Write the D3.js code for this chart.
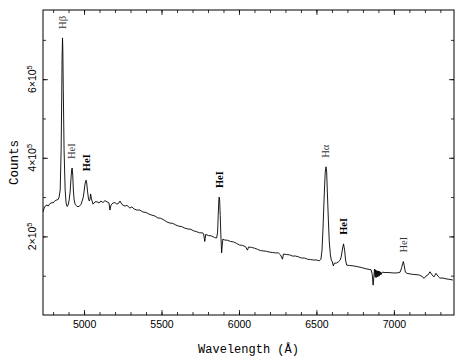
<!DOCTYPE html>
<html>
<head>
<meta charset="utf-8">
<script src="https://cdn.jsdelivr.net/npm/d3@7"></script>
<style>
  body { margin: 0; background: #fff; }
  .chart { width: 464px; height: 359px; }
</style>
</head>
<body>
<div class="chart"></div>
<script>
// spectrum: wavelength (Angstrom) and counts
const wavelengths = [
  4736, 4742, 4749, 4762, 4768, 4781, 4794, 4800, 4813, 4826, 4833, 4839, 4846, 4852, 4856, 4858,
  4861, 4863, 4866, 4871, 4878, 4884, 4891, 4897, 4904, 4910, 4916, 4920, 4923, 4927, 4931, 4936,
  4942, 4955, 4968, 4981, 4994, 5000, 5006, 5013, 5017, 5023, 5029, 5034, 5039, 5042, 5048, 5058,
  5071, 5084, 5097, 5109, 5122, 5135, 5148, 5161, 5167, 5174, 5187, 5199, 5212, 5225, 5232, 5245,
  5264, 5277, 5296, 5309, 5322, 5341, 5360, 5380, 5399, 5418, 5438, 5457, 5476, 5495, 5515, 5534,
  5553, 5573, 5592, 5611, 5631, 5650, 5669, 5689, 5708, 5727, 5746, 5766, 5772, 5779, 5785, 5804,
  5824, 5843, 5856, 5862, 5866, 5870, 5872, 5875, 5879, 5883, 5888, 5892, 5896, 5907, 5927, 5946,
  5965, 5985, 6004, 6023, 6042, 6055, 6062, 6081, 6100, 6120, 6139, 6158, 6178, 6197, 6216, 6236,
  6255, 6268, 6281, 6287, 6306, 6326, 6345, 6364, 6384, 6403, 6422, 6442, 6461, 6480, 6500, 6519,
  6529, 6536, 6542, 6548, 6553, 6557, 6562, 6566, 6570, 6577, 6583, 6590, 6596, 6603, 6609, 6616,
  6628, 6641, 6654, 6661, 6668, 6675, 6682, 6688, 6695, 6712, 6738, 6763, 6789, 6815, 6840, 6853,
  6860, 6866, 6871, 6875, 6879, 6882, 6885, 6889, 6892, 6895, 6898, 6901, 6905, 6908, 6911, 6914,
  6918, 6924, 6943, 6969, 6995, 7021, 7040, 7050, 7056, 7061, 7067, 7074, 7085, 7111, 7136, 7162,
  7182, 7195, 7207, 7220, 7233, 7246, 7259, 7272, 7284, 7297, 7317, 7336, 7355, 7381
]
const counts = [
  263000, 272000, 277000, 280000, 277000, 284000, 286000, 285000, 291000, 293000, 294000, 300000, 318000, 420000, 560000, 650000,
  705000, 674000, 573000, 420000, 318000, 285000, 276000, 280000, 293000, 313000, 349000, 369000, 374000, 356000, 318000, 293000,
  282000, 276000, 276000, 282000, 298000, 313000, 333000, 343000, 336000, 313000, 295000, 290000, 295000, 308000, 295000, 282000,
  288000, 288000, 285000, 290000, 286000, 291000, 288000, 285000, 267000, 280000, 285000, 286000, 282000, 285000, 290000, 281000,
  277000, 279000, 272000, 275000, 270000, 267000, 267000, 262000, 261000, 257000, 254000, 252000, 247000, 246000, 242000, 237000,
  234000, 233000, 229000, 226000, 225000, 221000, 219000, 218000, 214000, 212000, 209000, 209000, 206000, 187000, 205000, 202000,
  201000, 197000, 196000, 211000, 254000, 293000, 300000, 295000, 254000, 204000, 158000, 178000, 193000, 191000, 190000, 187000,
  186000, 182000, 178000, 177000, 174000, 165000, 173000, 172000, 170000, 167000, 164000, 163000, 162000, 160000, 159000, 158000,
  158000, 153000, 142000, 155000, 154000, 153000, 150000, 150000, 148000, 145000, 145000, 142000, 141000, 140000, 140000, 138000,
  142000, 165000, 216000, 280000, 331000, 364000, 377000, 364000, 318000, 242000, 186000, 153000, 140000, 135000, 125000, 132000,
  132000, 135000, 140000, 150000, 168000, 181000, 165000, 140000, 127000, 126000, 125000, 123000, 121000, 118000, 116000, 115000,
  104000, 76000, 99000, 117000, 97000, 115000, 95000, 113000, 97000, 112000, 98000, 112000, 99000, 111000, 102000, 109000,
  103000, 109000, 108000, 108000, 107000, 107000, 109000, 120000, 130000, 136000, 125000, 109000, 106000, 104000, 103000, 102000,
  98000, 93000, 99000, 102000, 110000, 102000, 97000, 106000, 99000, 94000, 94000, 92000, 91000, 89000
]

// emission line labels
const lineNames = ["H\u03b2", "HeI", "HeI", "HeI", "H\u03b1", "HeI", "HeI"]
const lineWaves = [4861, 4922, 5016, 5876, 6563, 6678, 7065]
const lineBold = [false, false, true, true, false, true, false]

// axis ticks
const xMajor = [5000, 5500, 6000, 6500, 7000]
const xMinor = d3.range(4800, 7400, 100)
const yMajor = [200000, 400000, 600000]
const yMajorLabels = ["2", "4", "6"]
const yMinor = [100000, 200000, 300000, 400000, 500000, 600000, 700000]

function SpectrumChart(){
    let config = {
        marginLeft: 43,
        marginRight: 10,
        marginTop: 10,
        marginBottom: 44
    }
    const width = 464
    const height = 359
    const innerW = width - config.marginLeft - config.marginRight
    const innerH = height - config.marginTop - config.marginBottom

    let svg = d3.select(".chart")
        .append("svg")
        .attr("width", width)
        .attr("height", height)

    let g = svg.append("g")
        .attr("transform", `translate(${config.marginLeft},${config.marginTop})`)

    var x = d3.scaleLinear()
        .domain([4735, 7388])
        .range([0, innerW])

    var y = d3.scaleLinear()
        .domain([0, 776000])
        .range([innerH, 0])

    const data = wavelengths.map((w, i) => [w, counts[i]])

    const line = d3.line()
        .x(d => x(d[0]))
        .y(d => y(d[1]))

    g.append("path")
        .datum(data)
        .attr("fill", "none")
        .attr("stroke", "#000")
        .attr("stroke-width", 0.9)
        .attr("stroke-linejoin", "round")
        .attr("d", line)

    // ticks point inward on all four sides
    const tickStyle = sel => {
        sel.select(".domain").remove()
        sel.selectAll("line").attr("stroke", "#000").attr("stroke-width", 0.8)
    }

    g.append("g").attr("transform", `translate(0,${innerH})`)
        .call(d3.axisBottom(x).tickValues(xMinor).tickSize(-3).tickFormat(""))
        .call(tickStyle)
    g.append("g").attr("transform", `translate(0,${innerH})`)
        .call(d3.axisBottom(x).tickValues(xMajor).tickSize(-5).tickPadding(6).tickFormat(d3.format("d")))
        .call(tickStyle)
        .call(s => s.selectAll("text")
            .attr("font-family", "'Liberation Sans', Arial, sans-serif")
            .attr("font-size", 10.5)
            .attr("fill", "#000"))

    g.append("g")
        .call(d3.axisTop(x).tickValues(xMinor).tickSize(-3).tickFormat(""))
        .call(tickStyle)
    g.append("g")
        .call(d3.axisTop(x).tickValues(xMajor).tickSize(-5).tickFormat(""))
        .call(tickStyle)

    g.append("g")
        .call(d3.axisLeft(y).tickValues(yMinor).tickSize(-3).tickFormat(""))
        .call(tickStyle)
    g.append("g")
        .call(d3.axisLeft(y).tickValues(yMajor).tickSize(-5).tickFormat(""))
        .call(tickStyle)
    g.append("g").attr("transform", `translate(${innerW},0)`)
        .call(d3.axisRight(y).tickValues(yMinor).tickSize(-3).tickFormat(""))
        .call(tickStyle)
    g.append("g").attr("transform", `translate(${innerW},0)`)
        .call(d3.axisRight(y).tickValues(yMajor).tickSize(-5).tickFormat(""))
        .call(tickStyle)

    // y tick labels as "n×10^5", rotated
    yMajor.forEach((v, i) => {
        let t = g.append("text")
            .attr("transform", `translate(-7,${y(v)}) rotate(-90)`)
            .attr("text-anchor", "middle")
            .attr("font-family", "'Liberation Sans', Arial, sans-serif")
            .attr("font-size", 10.5)
            .attr("fill", "#000")
        t.append("tspan").text(yMajorLabels[i] + "\u00d710")
        t.append("tspan").attr("dy", -4).attr("font-size", 7.5).text("5")
    })

    // frame
    g.append("rect")
        .attr("x", 0)
        .attr("y", 0)
        .attr("width", innerW)
        .attr("height", innerH)
        .attr("fill", "none")
        .attr("stroke", "#000")
        .attr("stroke-width", 1)

    // line labels, sitting above each peak
    lineWaves.forEach((w, i) => {
        let peak = d3.max(data.filter(d => Math.abs(d[0] - w) < 15), d => d[1])
        g.append("text")
            .attr("transform", `translate(${x(w) + 3},${y(peak) - 9}) rotate(-90)`)
            .attr("text-anchor", "start")
            .attr("font-family", "'Liberation Serif', 'Times New Roman', serif")
            .attr("font-size", 10.5)
            .attr("font-weight", lineBold[i] ? "bold" : "normal")
            .attr("fill", lineBold[i] ? "#000" : "#333")
            .text(lineNames[i])
    })

    // axis titles
    svg.append("text")
        .attr("x", config.marginLeft + innerW / 2)
        .attr("y", 353)
        .attr("text-anchor", "middle")
        .attr("font-family", "'Liberation Mono', 'Courier New', monospace")
        .attr("font-size", 12)
        .attr("fill", "#000")
        .text("Wavelength (\u00c5)")

    svg.append("text")
        .attr("transform", `translate(18,${config.marginTop + innerH / 2}) rotate(-90)`)
        .attr("text-anchor", "middle")
        .attr("font-family", "'Liberation Mono', 'Courier New', monospace")
        .attr("font-size", 12.5)
        .attr("fill", "#000")
        .text("Counts")
}

SpectrumChart()
</script>
</body>
</html>
